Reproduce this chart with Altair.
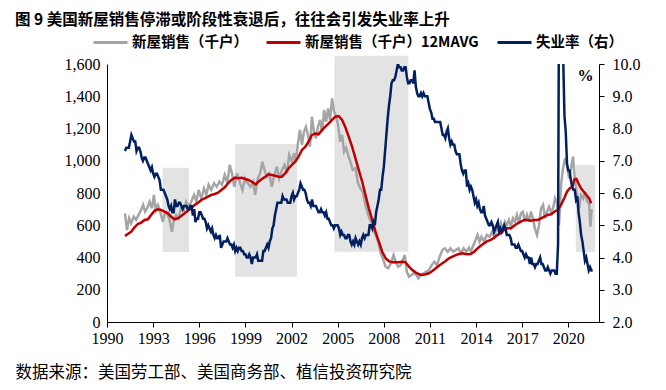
import altair as alt
import pandas as pd

TITLE = "图 9 美国新屋销售停滞或阶段性衰退后，往往会引发失业率上升"
SOURCE = "数据来源：美国劳工部、美国商务部、植信投资研究院"
S_SALES = "新屋销售（千户）"
S_AVG = "新屋销售（千户）12MAVG"
S_UNEMP = "失业率（右）"

x_ticks = [1990, 1993, 1996, 1999, 2002, 2005, 2008, 2011, 2014, 2017, 2020]
left_ticks = [0, 200, 400, 600, 800, 1000, 1200, 1400, 1600]
right_ticks = [2, 3, 4, 5, 6, 7, 8, 9, 10]

# shaded periods (left-axis units)
band_start = [1993.61, 1998.33, 2004.79, 2020.49]
band_end = [1995.33, 2002.35, 2009.60, 2021.75]
band_low = [434, 281, 436, 432]
band_high = [957, 1104, 1651, 974]

# new home sales (thousand units)
sales_year = [
    1991.17, 1991.30, 1991.44, 1991.57, 1991.74, 1991.89, 1992.05, 1992.22, 1992.35, 1992.48,
    1992.61, 1992.77, 1992.92, 1993.05, 1993.16, 1993.31, 1993.46, 1993.63, 1993.78, 1993.91,
    1994.07, 1994.22, 1994.35, 1994.50, 1994.66, 1994.83, 1995.00, 1995.15, 1995.31, 1995.48,
    1995.66, 1995.81, 1995.96, 1996.13, 1996.31, 1996.46, 1996.61, 1996.78, 1996.96, 1997.14,
    1997.31, 1997.48, 1997.66, 1997.83, 1997.98, 1998.13, 1998.28, 1998.46, 1998.66, 1998.81,
    1998.98, 1999.16, 1999.33, 1999.50, 1999.63, 1999.81, 1999.96, 2000.11, 2000.24, 2000.40,
    2000.55, 2000.72, 2000.89, 2001.05, 2001.20, 2001.38, 2001.55, 2001.70, 2001.85, 2002.03,
    2002.16, 2002.29, 2002.42, 2002.55, 2002.68, 2002.81, 2002.94, 2003.07, 2003.20, 2003.33,
    2003.46, 2003.59, 2003.72, 2003.86, 2003.99, 2004.12, 2004.25, 2004.38, 2004.51, 2004.64,
    2004.77, 2004.90, 2005.03, 2005.16, 2005.29, 2005.42, 2005.55, 2005.68, 2005.83, 2005.98,
    2006.16, 2006.33, 2006.48, 2006.63, 2006.81, 2006.99, 2007.16, 2007.29, 2007.46, 2007.64,
    2007.81, 2007.98, 2008.12, 2008.29, 2008.46, 2008.64, 2008.77, 2008.94, 2009.11, 2009.24,
    2009.37, 2009.50, 2009.64, 2009.81, 2009.96, 2010.12, 2010.25, 2010.42, 2010.59, 2010.77,
    2010.94, 2011.12, 2011.29, 2011.46, 2011.64, 2011.81, 2011.98, 2012.16, 2012.34, 2012.51,
    2012.68, 2012.86, 2013.03, 2013.20, 2013.38, 2013.55, 2013.66, 2013.79, 2013.97, 2014.10,
    2014.23, 2014.36, 2014.53, 2014.70, 2014.88, 2015.05, 2015.18, 2015.36, 2015.49, 2015.62,
    2015.75, 2015.88, 2016.01, 2016.14, 2016.27, 2016.40, 2016.53, 2016.66, 2016.79, 2016.92,
    2017.05, 2017.18, 2017.31, 2017.44, 2017.57, 2017.70, 2017.83, 2017.97, 2018.10, 2018.23,
    2018.36, 2018.49, 2018.62, 2018.75, 2018.88, 2019.01, 2019.14, 2019.27, 2019.40, 2019.53,
    2019.66, 2019.79, 2019.92, 2020.05, 2020.18, 2020.31, 2020.44, 2020.57, 2020.70, 2020.83,
    2020.97, 2021.10, 2021.23, 2021.36, 2021.44, 2021.52,
]
sales_value = [
    674, 570, 643, 612, 653, 633, 664, 695, 726, 684,
    705, 746, 705, 788, 695, 726, 684, 622, 684, 674,
    633, 560, 633, 664, 643, 715, 695, 746, 715, 746,
    788, 746, 819, 767, 829, 788, 850, 819, 860, 839,
    870, 850, 912, 860, 974, 922, 839, 922, 860, 819,
    891, 860, 839, 870, 788, 891, 922, 994, 943, 901,
    922, 839, 912, 963, 891, 943, 974, 922, 1036, 994,
    1046, 994, 1108, 1191, 1098, 1180, 1211, 1160, 1087, 1273,
    1180, 1139, 1211, 1253, 1180, 1315, 1242, 1325, 1253, 1387,
    1304, 1273, 1222, 1118, 1160, 1056, 1080, 1036, 994, 943,
    953, 860, 829, 808, 726, 664, 622, 591, 540, 498,
    426, 384, 343, 333, 364, 415, 374, 343, 353, 384,
    415, 312, 281, 291, 302, 291, 271, 291, 302, 312,
    322, 353, 374, 353, 405, 446, 457, 436, 457, 436,
    446, 457, 426, 457, 436, 461, 436, 467, 509, 540,
    498, 529, 498, 540, 529, 560, 529, 591, 560, 612,
    571, 622, 602, 633, 591, 643, 622, 664, 612, 674,
    684, 622, 664, 622, 684, 643, 581, 540, 602, 705,
    726, 643, 684, 715, 684, 705, 767, 736, 600, 850,
    953, 1015, 974, 891, 953, 1025, 870, 788, 705, 788,
    767, 808, 746, 735, 591, 700,
]

# 12-month moving average
avg_year = [
    1991.17, 1991.35, 1991.57, 1991.79, 1992.00, 1992.22, 1992.44, 1992.66, 1992.87, 1993.09,
    1993.31, 1993.52, 1993.74, 1993.96, 1994.17, 1994.40, 1994.61, 1994.83, 1995.05, 1995.26,
    1995.48, 1995.70, 1995.92, 1996.13, 1996.35, 1996.57, 1996.78, 1997.01, 1997.22, 1997.44,
    1997.66, 1997.87, 1998.09, 1998.33, 1998.55, 1998.77, 1998.98, 1999.20, 1999.42, 1999.68,
    1999.85, 2000.07, 2000.29, 2000.50, 2000.72, 2000.94, 2001.15, 2001.38, 2001.59, 2001.81,
    2002.03, 2002.24, 2002.46, 2002.68, 2002.90, 2003.11, 2003.33, 2003.55, 2003.76, 2003.99,
    2004.20, 2004.42, 2004.64, 2004.85, 2005.07, 2005.29, 2005.51, 2005.72, 2005.94, 2006.16,
    2006.37, 2006.60, 2006.81, 2007.03, 2007.25, 2007.46, 2007.68, 2007.90, 2008.12, 2008.33,
    2008.55, 2008.77, 2008.98, 2009.20, 2009.42, 2009.64, 2009.86, 2010.07, 2010.29, 2010.51,
    2010.72, 2010.94, 2011.16, 2011.38, 2011.59, 2011.81, 2012.03, 2012.24, 2012.47, 2012.68,
    2012.90, 2013.12, 2013.33, 2013.55, 2013.66, 2013.88, 2014.10, 2014.31, 2014.53, 2014.75,
    2014.96, 2015.18, 2015.40, 2015.62, 2015.83, 2016.05, 2016.27, 2016.48, 2016.71, 2016.92,
    2017.14, 2017.36, 2017.57, 2017.79, 2018.01, 2018.23, 2018.44, 2018.66, 2018.88, 2019.09,
    2019.32, 2019.53, 2019.75, 2019.92, 2020.10, 2020.27, 2020.40, 2020.53, 2020.66, 2020.83,
    2021.01, 2021.18, 2021.36, 2021.49,
]
avg_value = [
    533, 546, 560, 587, 608, 616, 633, 637, 664, 690,
    699, 695, 684, 674, 653, 637, 643, 657, 674, 690,
    705, 726, 740, 757, 767, 777, 788, 794, 802, 819,
    835, 860, 881, 895, 891, 895, 887, 881, 870, 854,
    870, 887, 901, 916, 912, 907, 901, 901, 922, 953,
    974, 994, 1025, 1067, 1087, 1118, 1160, 1168, 1164, 1191,
    1211, 1232, 1253, 1273, 1277, 1253, 1206, 1150, 1087, 1015,
    943, 870, 788, 705, 633, 560, 498, 436, 395, 378,
    370, 370, 370, 374, 370, 343, 322, 308, 296, 291,
    296, 302, 316, 333, 349, 364, 378, 395, 405, 415,
    422, 426, 422, 420, 422, 436, 457, 473, 488, 502,
    509, 523, 540, 550, 571, 581, 581, 597, 612, 622,
    633, 633, 628, 633, 633, 643, 653, 664, 668, 684,
    695, 726, 771, 808, 829, 839, 885, 887, 860, 829,
    808, 788, 767, 736,
]

# unemployment rate (%), monthly, first point at 1991.17 on the axis
unemp_start = 1991.17
unemp_value = [
    7.3, 7.4, 7.4, 7.4, 7.6, 7.8, 7.7, 7.6, 7.6, 7.3, 7.4, 7.4,
    7.3, 7.1, 7.0, 7.1, 7.1, 7.0, 6.9, 6.8, 6.7, 6.8, 6.6, 6.5,
    6.6, 6.6, 6.5, 6.4, 6.1, 6.1, 6.1, 6.0, 5.9, 5.8, 5.6, 5.5,
    5.6, 5.4, 5.4, 5.8, 5.6, 5.6, 5.7, 5.7, 5.6, 5.5, 5.6, 5.6,
    5.6, 5.5, 5.5, 5.6, 5.6, 5.3, 5.5, 5.1, 5.2, 5.2, 5.4, 5.4,
    5.3, 5.2, 5.2, 5.1, 4.9, 5.0, 4.9, 4.8, 4.9, 4.7, 4.6, 4.7,
    4.6, 4.6, 4.7, 4.3, 4.4, 4.5, 4.5, 4.5, 4.6, 4.5, 4.4, 4.4,
    4.3, 4.4, 4.2, 4.3, 4.2, 4.3, 4.3, 4.2, 4.2, 4.1, 4.1, 4.0,
    4.0, 4.1, 4.0, 3.8, 4.0, 4.0, 4.0, 4.1, 3.9, 3.9, 3.9, 3.9,
    4.2, 4.2, 4.3, 4.4, 4.3, 4.5, 4.6, 4.9, 5.0, 5.3, 5.5, 5.7,
    5.7, 5.7, 5.7, 5.9, 5.8, 5.8, 5.8, 5.7, 5.7, 5.7, 5.9, 6.0,
    5.8, 5.9, 5.9, 6.0, 6.1, 6.3, 6.2, 6.1, 6.1, 6.0, 5.8, 5.7,
    5.7, 5.6, 5.8, 5.6, 5.6, 5.6, 5.5, 5.4, 5.4, 5.5, 5.4, 5.4,
    5.3, 5.4, 5.2, 5.2, 5.1, 5.0, 5.0, 4.9, 5.0, 5.0, 5.0, 4.9,
    4.7, 4.8, 4.7, 4.7, 4.6, 4.6, 4.7, 4.7, 4.5, 4.4, 4.5, 4.4,
    4.6, 4.5, 4.4, 4.5, 4.4, 4.6, 4.7, 4.6, 4.7, 4.7, 4.7, 5.0,
    5.0, 4.9, 5.1, 5.0, 5.4, 5.6, 5.8, 6.1, 6.1, 6.5, 6.8, 7.3,
    7.8, 8.3, 8.7, 9.0, 9.4, 9.5, 9.5, 9.6, 9.8, 10.0, 9.9, 9.9,
    9.8, 9.8, 9.9, 9.9, 9.6, 9.4, 9.4, 9.5, 9.5, 9.4, 9.8, 9.3,
    9.1, 9.0, 9.0, 9.1, 9.0, 9.1, 9.0, 9.0, 9.0, 8.8, 8.6, 8.5,
    8.3, 8.3, 8.2, 8.2, 8.2, 8.2, 8.2, 8.0, 7.8, 7.8, 7.7, 7.9,
    8.0, 7.7, 7.5, 7.6, 7.5, 7.5, 7.3, 7.2, 7.2, 7.2, 6.9, 6.7,
    6.6, 6.7, 6.7, 6.2, 6.3, 6.1, 6.2, 6.1, 5.9, 5.7, 5.8, 5.6,
    5.7, 5.5, 5.4, 5.4, 5.6, 5.3, 5.2, 5.1, 5.0, 5.0, 5.1, 5.0,
    4.8, 4.9, 5.0, 5.1, 4.8, 4.9, 4.8, 4.9, 5.0, 4.9, 4.7, 4.7,
    4.7, 4.6, 4.4, 4.4, 4.4, 4.3, 4.3, 4.4, 4.3, 4.2, 4.2, 4.1,
    4.0, 4.1, 4.0, 4.0, 3.8, 4.0, 3.8, 3.8, 3.7, 3.8, 3.8, 3.9,
    4.0, 3.8, 3.8, 3.7, 3.6, 3.6, 3.7, 3.6, 3.5, 3.6, 3.6, 3.6,
    3.5, 3.5, 4.4, 14.7, 13.2, 11.0, 10.2, 8.4, 7.9, 6.9, 6.7, 6.7,
    6.4, 6.2, 6.1, 6.1, 5.8, 5.9, 5.4, 5.1, 4.7, 4.5, 4.2, 3.9,
    4.0, 3.8, 3.6, 3.7, 3.6, 3.6,
]

CJK = "Noto Sans CJK SC"
SERIF = "Liberation Serif"
W, H = 492, 258

bands_df = pd.DataFrame({"start": band_start, "end": band_end, "low": band_low, "high": band_high})
sales_df = pd.DataFrame({"year": sales_year, "value": sales_value, "series": S_SALES})
avg_df = pd.DataFrame({"year": avg_year, "value": avg_value, "series": S_AVG})
unemp_df = pd.DataFrame({
    "year": [unemp_start + i / 12 for i in range(len(unemp_value))],
    "value": unemp_value,
    "series": S_UNEMP,
})

x_scale = alt.Scale(domain=[1990, 2022], nice=False, zero=False)
yl_scale = alt.Scale(domain=[0, 1600], nice=False)
yr_scale = alt.Scale(domain=[2, 10], nice=False, zero=False)
color_scale = alt.Scale(domain=[S_SALES, S_AVG, S_UNEMP], range=["#A5A5A5", "#C00000", "#002060"])

x_axis = alt.Axis(
    values=x_ticks, format="d", title=SOURCE, grid=False,
    titleX=-92, titleY=50, titleAlign="left", titleAnchor="start", titleBaseline="middle",
    titleFont=CJK, titleFontSize=16.5, titleFontWeight="normal", titleColor="black",
    labelFont=SERIF, labelFontSize=16, labelColor="black", labelPadding=3,
    labelFlush=False, labelOverlap=False,
    tickSize=5, tickColor="black", domainColor="black", domainWidth=1,
)
yl_axis = alt.Axis(
    values=left_ticks, format=",.0f", title=None, orient="left", grid=False,
    ticks=False, tickSize=0, labelPadding=7,
    labelFont=SERIF, labelFontSize=16, labelColor="black",
    domainColor="black", domainWidth=1,
)
yr_axis = alt.Axis(
    values=right_ticks, format=".1f", orient="right", grid=False,
    title="%", titleAngle=0, titleX=-14, titleY=11, titleAlign="center", titleBaseline="middle",
    titleFont=SERIF, titleFontSize=16, titleFontWeight="bold", titleColor="black",
    tickSize=5, tickColor="black", labelPadding=8,
    labelFont=SERIF, labelFontSize=16, labelColor="black",
    domainColor="black", domainWidth=1,
)
legend = alt.Legend(
    title=None, orient="none", legendX=-15, legendY=-40, direction="horizontal",
    symbolType="stroke", symbolSize=1156, symbolStrokeWidth=3,
    labelFont=CJK, labelFontSize=14.5, labelFontWeight="bold", labelColor="black",
    labelOffset=3, columnPadding=12, labelLimit=400,
)

x_enc = alt.X("year:Q", scale=x_scale, axis=x_axis)
color_enc = alt.Color("series:N", scale=color_scale, legend=legend)

bands = alt.Chart(bands_df).mark_rect(color="#E3E3E3").encode(
    x=alt.X("start:Q", scale=x_scale, axis=x_axis),
    x2="end:Q",
    y=alt.Y("low:Q", scale=yl_scale, axis=yl_axis),
    y2="high:Q",
)
sales = alt.Chart(sales_df).mark_line(strokeWidth=2.5).encode(
    x=x_enc, y=alt.Y("value:Q", scale=yl_scale, axis=yl_axis), color=color_enc
)
avg = alt.Chart(avg_df).mark_line(strokeWidth=2.5).encode(
    x=x_enc, y=alt.Y("value:Q", scale=yl_scale, axis=yl_axis), color=color_enc
)
unemp = alt.Chart(unemp_df).mark_line(strokeWidth=2.5, clip=True).encode(
    x=x_enc, y=alt.Y("value:Q", scale=yr_scale, axis=yr_axis), color=color_enc
)

left = alt.layer(bands, sales, avg)
chart = alt.layer(left, unemp).resolve_scale(y="independent").properties(
    width=W, height=H,
    title=alt.TitleParams(TITLE, anchor="start", frame="group", dx=-92, dy=8,
                          font=CJK, fontSize=15.5, fontWeight="bold", color="black"),
    padding={"left": 99, "top": 56, "right": 59, "bottom": 60},
    autosize=alt.AutoSizeParams(type="none"),
).configure_view(stroke=None)

chart.save("out.html", embed_options={"renderer": "svg", "actions": False})
